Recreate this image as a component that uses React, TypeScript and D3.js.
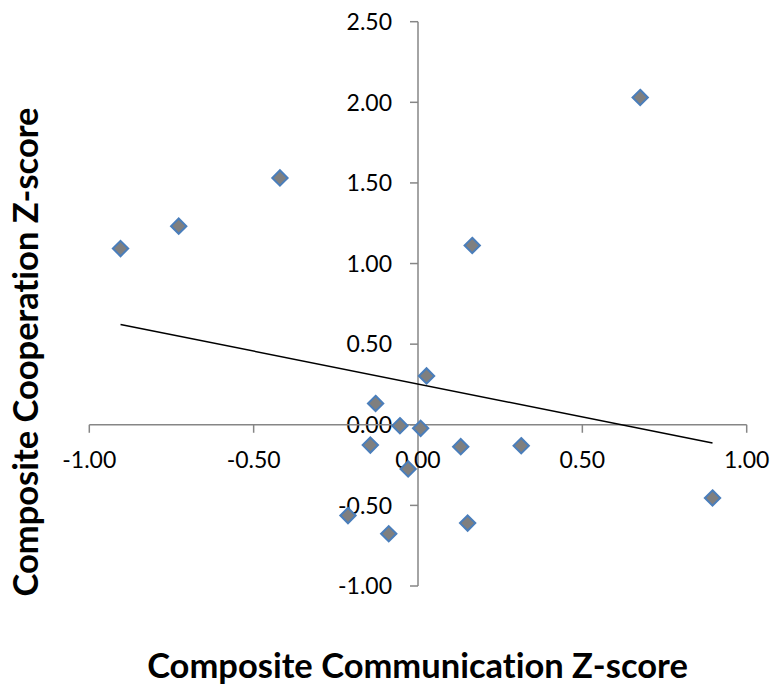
import React from "react";
import * as d3 from "d3";

// Composite scores per participant
const communication = [
  -0.905, -0.728, -0.42, 0.676, 0.165, 0.026, -0.129, -0.055, 0.008,
  -0.145, -0.03, -0.213, -0.089, 0.13, 0.314, 0.151, 0.896,
];
const cooperation = [
  1.093, 1.232, 1.531, 2.03, 1.112, 0.303, 0.132, -0.006, -0.022,
  -0.126, -0.274, -0.563, -0.676, -0.136, -0.13, -0.61, -0.454,
];
const xTicks = [-1, -0.5, 0, 0.5, 1];
const yTicks = [-1, -0.5, 0, 0.5, 1, 1.5, 2, 2.5];
const xTitle = "Composite Communication Z-score";
const yTitle = "Composite Cooperation Z-score";

const W = 772;
const H = 686;
const FONT = "Lato, 'Open Sans', sans-serif";
const AXIS = "#868686";
const noLig = { fontVariantLigatures: "none" as const };

// two decimals with a plain hyphen for negatives
const fmt = (v: number) => d3.format(".2f")(v).replace("\u2212", "-");

export default function App() {
  const x = d3.scaleLinear().domain([-1, 1]).range([89.3, 746.7]);
  const y = d3.scaleLinear().domain([-1, 2.5]).range([586, 21.7]);

  // least-squares trend line
  const mx = d3.mean(communication)!;
  const my = d3.mean(cooperation)!;
  let sxy = 0;
  let sxx = 0;
  communication.forEach((v, i) => {
    sxy += (v - mx) * (cooperation[i] - my);
    sxx += (v - mx) * (v - mx);
  });
  const slope = sxy / sxx;
  const intercept = my - slope * mx;
  const [x0, x1] = d3.extent(communication) as [number, number];
  const trend = d3.line<number>()
    .x((d) => x(d))
    .y((d) => y(intercept + slope * d))([x0, x1]);

  const diamond = d3.symbol().type(d3.symbolDiamond2).size(150)();
  const pts = communication.map((v, i) => ({ cx: x(v), cy: y(cooperation[i]) }));

  return (
    <div style={{ position: "fixed", left: 0, top: 0 }}>
      <svg width={W} height={H} style={{ display: "block", background: "#fff" }}>
        {/* vertical axis */}
        <line x1={x(0)} x2={x(0)} y1={y(-1)} y2={y(2.5)} stroke={AXIS} strokeWidth={1.5} />
        {yTicks.map((t) => (
          <g key={"y" + t}>
            <line x1={x(0) - 8} x2={x(0)} y1={y(t)} y2={y(t)} stroke={AXIS} strokeWidth={1.5} />
            <text x={392} y={y(t)} dy="0.36em" textAnchor="end" fontFamily={FONT} fontSize={23} fill="#000">
              {fmt(t)}
            </text>
          </g>
        ))}
        {/* horizontal axis */}
        <line x1={x(-1)} x2={x(1)} y1={y(0)} y2={y(0)} stroke={AXIS} strokeWidth={1.5} />
        {xTicks.map((t) => (
          <g key={"x" + t}>
            <line x1={x(t)} x2={x(t)} y1={y(0)} y2={y(0) + 8} stroke={AXIS} strokeWidth={1.5} />
            <text x={x(t)} y={468} textAnchor="middle" fontFamily={FONT} fontSize={23} fill="#000">
              {fmt(t)}
            </text>
          </g>
        ))}
        {/* trend line */}
        <path d={trend ?? ""} fill="none" stroke="#000" strokeWidth={1.5} />
        {/* data points */}
        {pts.map((p, i) => (
          <path
            key={i}
            d={diamond ?? ""}
            transform={`translate(${p.cx},${p.cy})`}
            fill="#7f7f7f"
            stroke="#4a7ebb"
            strokeWidth={2}
          />
        ))}
        {/* axis titles */}
        <text x={417.5} y={678} textAnchor="middle" fontFamily={FONT} fontWeight="bold" fontSize={34.5} fill="#000" style={noLig}>
          {xTitle}
        </text>
        <text
          transform={`translate(38,352) rotate(-90)`}
          textAnchor="middle"
          fontFamily={FONT}
          fontWeight="bold"
          fontSize={34.5}
          fill="#000"
          style={noLig}
        >
          {yTitle}
        </text>
      </svg>
    </div>
  );
}
